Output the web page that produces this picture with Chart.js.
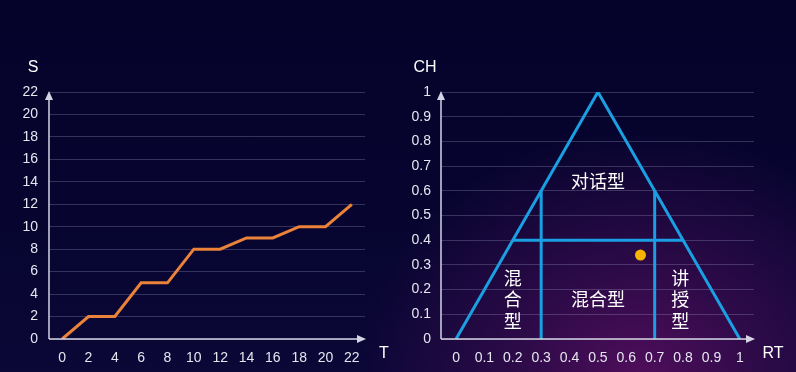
<!DOCTYPE html>
<html><head><meta charset="utf-8">
<script src="https://cdn.jsdelivr.net/npm/chart.js@4.4.1/dist/chart.umd.min.js"></script>
<style>
html,body{margin:0;padding:0;width:796px;height:372px;overflow:hidden;}
body{background:
 radial-gradient(ellipse 280px 240px at 640px 372px, rgba(82,14,92,0.95) 0%, rgba(62,12,82,0.65) 45%, rgba(20,6,50,0) 100%),
 linear-gradient(180deg,#05032a 0%,#070530 60%,#0b0736 100%);}
#c1{position:absolute;left:0;top:0;}
#c2{position:absolute;left:400px;top:0;}
</style></head><body>
<canvas id="c1" width="400" height="372"></canvas>
<canvas id="c2" width="396" height="372"></canvas>
<script>
// Left chart data
const tLabels = ['0','2','4','6','8','10','12','14','16','18','20','22'];
const sValues = [0,2,2,5,5,8,8,9,9,10,10,12];
const sTicks = [0,2,4,6,8,10,12,14,16,18,20,22];

// Right chart data
const rtTicks = [0,0.1,0.2,0.3,0.4,0.5,0.6,0.7,0.8,0.9,1];
const chTicks = [0,0.1,0.2,0.3,0.4,0.5,0.6,0.7,0.8,0.9,1];
const triangle = [{x:0,y:0},{x:0.5,y:1},{x:1,y:0}];
const divider1 = [{x:0.3,y:0},{x:0.3,y:0.6}];
const divider2 = [{x:0.7,y:0},{x:0.7,y:0.6}];
const divider3 = [{x:0.2,y:0.4},{x:0.8,y:0.4}];
const samplePoint = [{x:0.65,y:0.34}];
const regionLabels = [
  {text:'对话型', x:0.5, y:0.64, vertical:false},
  {text:'混合型', x:0.5, y:0.16, vertical:false},
  {text:'混合型', x:0.2, y:0.16, vertical:true},
  {text:'讲授型', x:0.79, y:0.16, vertical:true}
];

const FONT = '"Liberation Sans", Arial, sans-serif';
const TICKC = '#e6e6f0';
const GRIDC = 'rgba(170,170,210,0.28)';
const AXISC = '#d4d4e4';

function axesPlugin(yTitle, xTitle, yTitleX, xTitleX){
  return {
    id:'axesDeco',
    afterDraw(chart){
      const ctx = chart.ctx, a = chart.chartArea;
      ctx.save();
      ctx.strokeStyle = AXISC; ctx.fillStyle = AXISC; ctx.lineWidth = 1.5;
      ctx.beginPath();
      ctx.moveTo(a.left, a.bottom); ctx.lineTo(a.left, a.top + 4);
      ctx.moveTo(a.left, a.bottom); ctx.lineTo(a.right - 4, a.bottom);
      ctx.stroke();
      ctx.beginPath();
      ctx.moveTo(a.left, a.top - 1); ctx.lineTo(a.left - 4, a.top + 8); ctx.lineTo(a.left + 4, a.top + 8); ctx.closePath(); ctx.fill();
      ctx.beginPath();
      ctx.moveTo(a.right + 1, a.bottom); ctx.lineTo(a.right - 8, a.bottom - 4); ctx.lineTo(a.right - 8, a.bottom + 4); ctx.closePath(); ctx.fill();
      ctx.fillStyle = '#ffffff';
      ctx.font = '16px ' + FONT;
      ctx.textAlign = 'center'; ctx.textBaseline = 'middle';
      ctx.fillText(yTitle, yTitleX, 68);
      ctx.fillText(xTitle, xTitleX, 354);
      ctx.restore();
    }
  };
}

const labelPlugin = {
  id:'regionLabels',
  afterDatasetsDraw(chart){
    const ctx = chart.ctx, xs = chart.scales.x, ys = chart.scales.y;
    ctx.save();
    ctx.fillStyle = '#ffffff';
    ctx.font = '18px "Noto Sans CJK SC", sans-serif';
    ctx.textAlign = 'center'; ctx.textBaseline = 'middle';
    regionLabels.forEach(l => {
      const px = xs.getPixelForValue(l.x), py = ys.getPixelForValue(l.y);
      if (!l.vertical) { ctx.fillText(l.text, px, py); }
      else {
        const chars = Array.from(l.text);
        const step = 21.5;
        chars.forEach((c,i) => ctx.fillText(c, px, py + (i - (chars.length-1)/2) * step));
      }
    });
    ctx.restore();
  }
};

const fmt = v => String(Math.round(v * 10) / 10);

Chart.defaults.font.family = FONT;
Chart.defaults.font.size = 14;
Chart.defaults.color = TICKC;

new Chart(document.getElementById('c1'), {
  type:'line',
  data:{labels:tLabels, datasets:[{data:sValues, borderColor:'#ea8239', borderWidth:3, pointRadius:0, tension:0, fill:false}]},
  options:{
    responsive:false, animation:false,
    layout:{padding:{left:0, top:92, right:35, bottom:0}},
    plugins:{legend:{display:false}, tooltip:{enabled:false}},
    scales:{
      x:{type:'category', offset:true,
         grid:{display:false, drawTicks:false}, border:{display:false},
         ticks:{color:TICKC, padding:11, maxRotation:0, autoSkip:false},
         afterFit(s){ s.height = 33; }},
      y:{min:0, max:22,
         grid:{color:GRIDC, drawTicks:false, lineWidth:1}, border:{display:false},
         afterBuildTicks(s){ s.ticks = sTicks.map(v => ({value:v})); },
         ticks:{color:TICKC, padding:11},
         afterFit(s){ s.width = 49; }}
    }
  },
  plugins:[axesPlugin('S','T',33,384)]
});

new Chart(document.getElementById('c2'), {
  type:'scatter',
  data:{datasets:[
    {data:triangle, showLine:true, borderColor:'#1a9fe3', borderWidth:3, pointRadius:0, tension:0},
    {data:divider1, showLine:true, borderColor:'#1a9fe3', borderWidth:3, pointRadius:0},
    {data:divider2, showLine:true, borderColor:'#1a9fe3', borderWidth:3, pointRadius:0},
    {data:divider3, showLine:true, borderColor:'#1a9fe3', borderWidth:3, pointRadius:0},
    {data:samplePoint, showLine:false, backgroundColor:'#f7b500', borderColor:'#f7b500', pointRadius:5.5, borderWidth:0}
  ]},
  options:{
    responsive:false, animation:false,
    layout:{padding:{left:0, top:92, right:42, bottom:0}},
    plugins:{legend:{display:false}, tooltip:{enabled:false}},
    scales:{
      x:{type:'linear', min:-0.053, max:1.05,
         grid:{display:false, drawTicks:false}, border:{display:false},
         afterBuildTicks(s){ s.ticks = rtTicks.map(v => ({value:v})); },
         ticks:{color:TICKC, padding:11, maxRotation:0, autoSkip:false, callback:fmt},
         afterFit(s){ s.height = 33; }},
      y:{min:0, max:1,
         grid:{color:GRIDC, drawTicks:false, lineWidth:1}, border:{display:false},
         afterBuildTicks(s){ s.ticks = chTicks.map(v => ({value:v})); },
         ticks:{color:TICKC, padding:10, callback:fmt},
         afterFit(s){ s.width = 41; }}
    }
  },
  plugins:[labelPlugin, axesPlugin('CH','RT',25,373)]
});
</script>
</body></html>
